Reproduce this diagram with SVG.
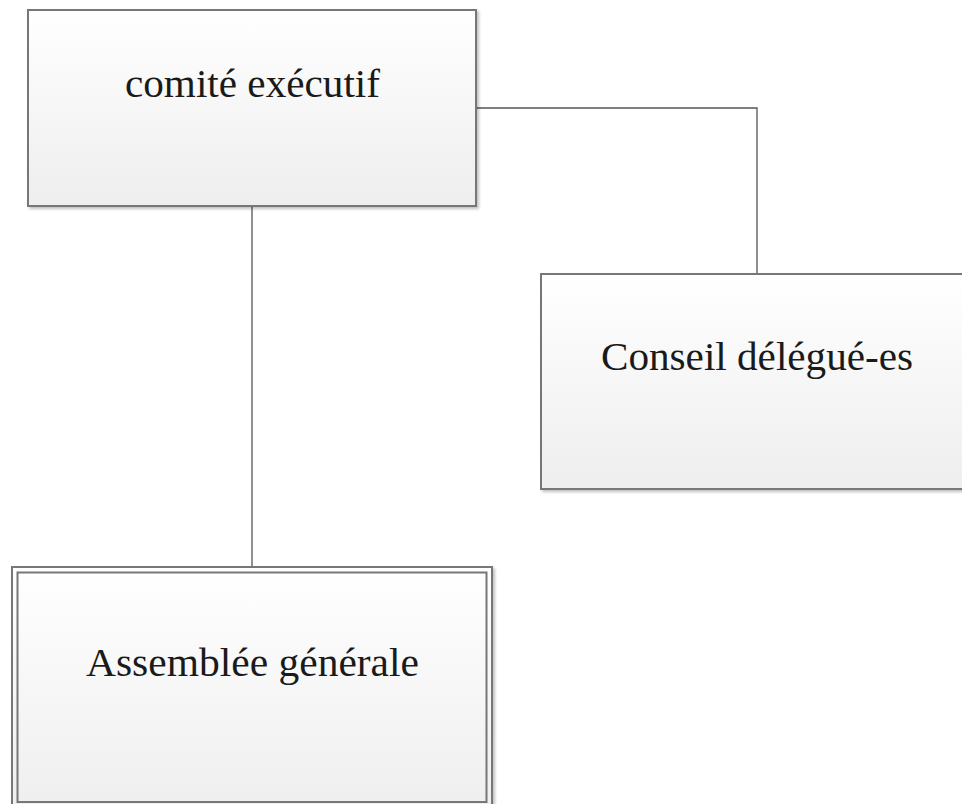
<svg xmlns="http://www.w3.org/2000/svg" width="962" height="804" viewBox="0 0 962 804">
<defs>
<linearGradient id="fill" x1="0" y1="0" x2="0" y2="1">
<stop offset="0" stop-color="#ffffff"/>
<stop offset="1" stop-color="#eeeeee"/>
</linearGradient>
<filter id="sh" x="-5%" y="-5%" width="115%" height="115%">
<feGaussianBlur in="SourceAlpha" stdDeviation="1.5"/>
<feOffset dx="2" dy="2" result="b"/>
<feComponentTransfer><feFuncA type="linear" slope="0.25"/></feComponentTransfer>
<feMerge><feMergeNode/><feMergeNode in="SourceGraphic"/></feMerge>
</filter>
</defs>
<style>
.box{fill:url(#fill);stroke:#777777;stroke-width:2}
.inner{fill:none;stroke:#777777;stroke-width:2}
.lbl{font-family:"Liberation Serif","DejaVu Serif",serif;font-size:40px;fill:#1a1a1a;text-anchor:middle}
.con{fill:none;stroke:#555555;stroke-width:1.3}
</style>
<rect width="962" height="804" fill="#ffffff"/>
<g id="connectors">
<path class="con" d="M252 206 V567"/>
<path class="con" d="M476 108 H757 V274"/>
</g>
<g id="comite">
<rect class="box" x="28" y="10" width="448" height="196" filter="url(#sh)"/>
<text class="lbl" x="252.5" y="97" textLength="255" lengthAdjust="spacingAndGlyphs">comité exécutif</text>
</g>
<g id="conseil">
<rect class="box" x="541" y="274" width="432" height="215" filter="url(#sh)"/>
<text class="lbl" x="757" y="370" textLength="312" lengthAdjust="spacingAndGlyphs">Conseil délégué-es</text>
</g>
<g id="assemblee">
<rect class="box" x="12" y="567" width="480" height="250" filter="url(#sh)"/>
<rect class="inner" x="17.5" y="572.5" width="469" height="229.5"/>
<text class="lbl" x="252.5" y="676" textLength="333" lengthAdjust="spacingAndGlyphs">Assemblée générale</text>
</g>
</svg>
